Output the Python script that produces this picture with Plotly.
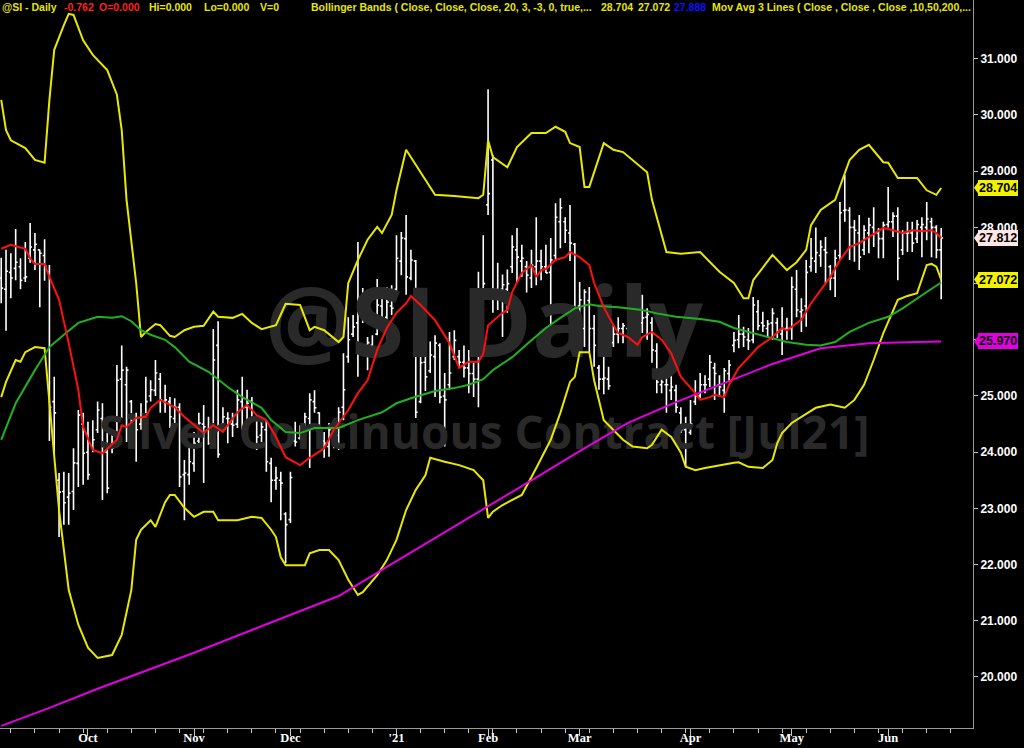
import plotly.graph_objects as go

# ---------------- DATA ----------------
month_labels = ["Oct", "Nov", "Dec", "'21", "Feb", "Mar", "Apr", "May", "Jun"]
month_index = [18, 40, 60, 82, 101, 120, 143, 164, 184]

price_ticks = [20, 21, 22, 23, 24, 25, 26, 27, 28, 29, 30, 31]
price_tick_text = ["20.000", "21.000", "22.000", "23.000", "24.000", "25.000", "", "",
                   "28.000", "29.000", "30.000", "31.000"]

bar_open = [27.1, 26.9, 27.2, 27.27, 27.3, 27.1, 27.45, 27.6, 27.6, 27.5,
            27.2, 24.9, 23.5, 23.3, 23.2, 23.3, 23.8, 24.5, 24.0, 24.1,
            24.4, 24.6, 24.0, 24.1, 24.2, 25.3, 25.2, 24.9, 24.6, 24.5,
            24.6, 25.0, 25.1, 25.3, 24.9, 24.9, 24.6, 24.8, 23.6, 23.6,
            23.8, 24.2, 24.5, 24.4, 24.3, 25.9, 24.5, 24.6, 24.5, 24.5,
            24.9, 24.8, 24.9, 24.6, 24.3, 24.4, 23.8, 23.5, 23.5, 22.9,
            22.8, 24.2, 24.25, 24.4, 24.6, 24.9, 24.7, 24.2, 24.1, 24.3,
            24.3, 24.8, 25.7, 26.1, 26.3, 26.5, 25.9, 25.9, 26.1, 26.6,
            26.4, 26.6, 26.9, 27.4, 27.8, 27.1, 27.4, 24.9, 25.6, 25.45,
            25.7, 25.9, 25.0, 25.2, 25.7, 25.7, 25.6, 25.5, 25.4, 25.3,
            26.5, 28.4, 29.2, 26.9, 26.9, 26.9, 27.3, 27.6, 27.4, 27.3,
            27.1, 27.3, 27.4, 27.3, 27.2, 27.5, 28.1, 28.1, 27.9, 27.7,
            26.6, 26.2, 26.7, 26.2, 25.5, 25.3, 25.3, 25.95, 26.1, 26.2,
            26.2, 26.1, 26.3, 26.3, 26.4, 26.3, 25.8, 25.2, 25.2, 25.1,
            25.1, 24.7, 24.4, 24.35, 24.9, 25.0, 25.2, 25.3, 25.5, 25.2,
            25.1, 25.4, 25.9, 26.0, 26.1, 26.0, 26.0, 26.5, 26.3, 26.2,
            26.3, 26.3, 26.1, 26.2, 26.2, 26.9, 26.5, 26.6, 27.3, 27.4,
            27.5, 27.6, 27.3, 27.1, 27.5, 28.3, 28.3, 28.0, 27.9, 27.6,
            27.9, 28.0, 27.9, 27.8, 28.05, 28.1, 28.2, 27.6, 27.9, 27.9,
            27.8, 28.0, 28.0, 28.1, 28.0, 27.6]

bar_high = [27.46, 27.60, 27.54, 27.97, 27.45, 27.74, 28.08, 27.90, 27.60, 27.79,
            27.33, 25.34, 23.63, 23.65, 23.63, 24.07, 24.75, 24.70, 24.54, 24.57,
            24.90, 24.87, 24.34, 24.36, 25.55, 25.90, 25.52, 24.93, 24.70, 24.87,
            25.34, 25.28, 25.64, 25.41, 25.20, 24.98, 24.96, 24.87, 23.86, 24.13,
            24.36, 24.70, 24.84, 24.63, 26.19, 26.33, 24.80, 24.71, 24.70, 25.11,
            25.34, 25.11, 24.98, 24.63, 24.63, 24.57, 23.90, 23.74, 23.65, 22.93,
            23.65, 24.54, 24.48, 24.70, 25.05, 25.10, 24.71, 24.36, 24.52, 24.45,
            24.80, 25.76, 26.40, 26.44, 27.74, 26.92, 26.05, 26.08, 27.08, 26.88,
            26.94, 26.97, 27.86, 27.92, 28.22, 27.60, 27.42, 25.82, 25.87, 25.97,
            26.08, 25.94, 25.41, 26.14, 26.17, 25.82, 25.90, 25.82, 25.59, 27.21,
            27.86, 30.46, 29.29, 27.37, 27.16, 27.25, 27.86, 27.99, 27.69, 27.40,
            27.60, 28.18, 27.60, 27.69, 27.81, 28.43, 28.52, 28.18, 28.40, 27.72,
            27.03, 26.90, 26.94, 26.44, 25.55, 26.03, 25.52, 26.26, 26.40, 26.30,
            26.35, 26.44, 26.53, 26.80, 26.56, 26.40, 25.94, 25.46, 25.32, 25.37,
            25.20, 24.80, 24.63, 24.93, 25.28, 25.41, 25.37, 25.73, 25.59, 25.37,
            25.50, 25.64, 26.14, 26.44, 26.23, 26.21, 26.76, 26.71, 26.50, 26.35,
            26.56, 26.39, 26.58, 26.39, 27.12, 27.24, 26.74, 27.42, 27.81, 28.00,
            27.77, 27.83, 27.33, 27.60, 28.45, 28.93, 28.36, 28.13, 28.22, 28.04,
            28.17, 28.36, 27.99, 28.10, 28.72, 28.27, 28.36, 27.95, 28.10, 28.10,
            28.13, 28.18, 28.45, 28.17, 28.04, 27.99]

bar_low = [26.65, 26.16, 26.74, 27.06, 26.90, 27.03, 27.37, 27.24, 26.58, 27.05,
           24.20, 23.95, 22.49, 22.71, 22.71, 22.97, 23.38, 23.42, 23.51, 24.00,
           24.34, 23.15, 23.27, 23.98, 24.13, 24.61, 24.18, 24.31, 23.83, 24.40,
           24.40, 24.90, 25.00, 24.70, 24.70, 24.43, 24.45, 23.38, 22.79, 23.42,
           23.65, 24.16, 23.45, 24.13, 24.27, 23.90, 24.40, 24.16, 24.27, 24.43,
           24.40, 24.54, 24.61, 24.04, 24.18, 23.65, 23.11, 23.33, 22.79, 22.03,
           22.74, 24.10, 24.22, 24.10, 23.72, 24.70, 24.10, 23.90, 23.92, 24.07,
           24.04, 24.57, 25.59, 26.05, 25.34, 26.30, 25.46, 25.69, 26.08, 26.21,
           26.35, 26.44, 26.85, 27.15, 26.80, 27.06, 24.61, 24.87, 25.09, 25.41,
           24.98, 24.87, 24.10, 25.11, 25.64, 25.52, 25.33, 25.05, 24.98, 24.80,
           26.00, 28.22, 26.48, 26.53, 26.05, 26.48, 27.19, 27.01, 27.12, 26.84,
           26.92, 26.97, 27.06, 27.19, 26.26, 27.40, 27.63, 27.72, 27.40, 26.17,
           26.23, 25.87, 25.77, 25.52, 25.11, 25.03, 25.11, 25.87, 25.94, 25.94,
           26.03, 26.05, 26.12, 26.12, 26.00, 25.59, 25.05, 25.05, 24.70, 24.93,
           24.70, 24.34, 23.74, 24.31, 24.84, 24.96, 25.05, 25.16, 24.93, 24.98,
           24.70, 25.25, 25.78, 25.85, 25.87, 25.82, 25.94, 26.17, 26.14, 26.05,
           26.00, 26.03, 25.73, 26.00, 26.00, 26.40, 26.14, 26.23, 27.21, 27.19,
           27.30, 27.01, 26.88, 26.76, 27.42, 28.10, 27.42, 27.39, 27.24, 27.51,
           27.54, 27.65, 27.45, 27.45, 28.00, 27.83, 27.06, 27.51, 27.56, 27.56,
           27.72, 27.47, 27.77, 27.47, 27.45, 26.72]

bar_close = [26.92, 27.22, 27.10, 27.38, 27.06, 27.12, 27.65, 27.70, 27.54, 27.31,
             24.80, 24.70, 23.29, 23.10, 23.27, 23.81, 24.66, 23.98, 23.60, 24.22,
             24.75, 24.09, 23.36, 24.07, 25.28, 25.46, 25.46, 24.61, 24.40, 24.61,
             24.90, 25.11, 25.41, 24.93, 24.93, 24.63, 24.80, 23.56, 23.63, 23.83,
             24.16, 24.52, 24.45, 24.16, 25.64, 23.96, 24.63, 24.60, 24.48, 24.93,
             24.79, 24.87, 24.63, 24.27, 24.45, 23.83, 23.50, 23.54, 23.45, 22.71,
             23.55, 24.18, 24.35, 24.63, 24.93, 24.79, 24.16, 24.16, 24.40, 24.40,
             24.71, 25.11, 26.00, 26.23, 26.48, 26.53, 25.95, 25.82, 26.62, 26.39,
             26.67, 26.56, 27.45, 27.81, 27.12, 27.42, 24.71, 25.59, 25.34, 25.73,
             25.94, 24.98, 24.93, 25.41, 25.99, 25.60, 25.50, 25.40, 25.30, 26.50,
             27.00, 28.60, 26.90, 26.87, 26.98, 27.00, 27.65, 27.47, 27.45, 27.15,
             27.33, 27.40, 27.30, 27.19, 27.42, 28.18, 28.35, 27.95, 27.72, 26.48,
             26.71, 26.85, 26.20, 25.90, 25.30, 25.32, 25.18, 26.10, 26.20, 26.25,
             26.06, 26.32, 26.20, 26.39, 26.45, 25.82, 25.25, 25.25, 25.20, 25.16,
             24.80, 24.40, 24.10, 24.50, 25.00, 25.20, 25.20, 25.60, 25.40, 25.16,
             25.45, 25.55, 25.99, 26.10, 26.05, 25.98, 26.62, 26.25, 26.25, 26.28,
             26.47, 26.14, 26.20, 26.20, 26.94, 26.53, 26.53, 27.20, 27.45, 27.55,
             27.65, 27.55, 27.10, 27.45, 28.26, 28.31, 28.00, 27.95, 27.47, 27.95,
             28.04, 27.90, 27.80, 28.04, 28.10, 28.20, 27.45, 27.90, 27.90, 27.72,
             28.05, 28.05, 28.15, 28.00, 27.60, 27.81]

ma10_idx = [0, 2, 5, 6, 7, 9, 10, 12, 14, 16, 17, 19, 21, 23, 24, 25, 26, 28, 30, 31,
            33, 35, 36, 38, 40, 42, 44, 46, 47, 49, 51, 53, 55, 57, 59, 62, 64, 67, 69, 72,
            74, 76, 78, 80, 82, 84, 85, 87, 90, 93, 95, 97, 99, 100, 101, 104, 105, 106, 108, 110,
            111, 112, 113, 115, 117, 118, 120, 122, 123, 125, 127, 128, 130, 132, 133, 135, 137, 139, 141, 144,
            145, 147, 148, 150, 151, 153, 155, 157, 160, 162, 163, 165, 166, 168, 170, 172, 174, 176, 178, 180,
            183, 185, 187, 189, 191, 193, 194, 195]
ma10_val = [27.62, 27.69, 27.62, 27.45, 27.35, 27.35, 27.12, 26.71, 25.94, 25.11,
            24.45, 24.04, 23.98, 24.13, 24.22, 24.48, 24.45, 24.61, 24.63, 24.79,
            24.93, 24.84, 24.8, 24.63, 24.48, 24.34, 24.48, 24.36, 24.48, 24.71,
            24.84, 24.66, 24.57, 24.27, 23.91, 23.77, 23.9, 24.07, 24.4, 24.75,
            25.05, 25.28, 25.82, 26.21, 26.48, 26.65, 26.78, 26.62, 26.35, 25.94,
            25.5, 25.61, 25.61, 25.75, 26.26, 26.48, 26.53, 26.85, 27.19, 27.33,
            27.12, 27.24, 27.26, 27.42, 27.47, 27.56, 27.47, 27.33, 27.01, 26.58,
            26.26, 26.12, 26.05, 25.91, 26.05, 26.14, 26.0, 25.76, 25.34, 25.05,
            24.93, 24.98, 25.02, 24.98, 25.2, 25.5, 25.68, 25.87, 26.05, 26.21,
            26.17, 26.3, 26.36, 26.65, 26.88, 27.12, 27.42, 27.65, 27.72, 27.83,
            27.99, 27.95, 27.9, 27.95, 27.93, 27.95, 27.9, 27.81]

ma50_idx = [0, 3, 7, 10, 13, 16, 20, 23, 25, 27, 29, 31, 34, 36, 39, 43, 47, 50, 54, 56,
            59, 62, 65, 67, 70, 74, 79, 82, 85, 90, 94, 97, 100, 102, 106, 110, 113, 116, 119, 122,
            124, 128, 133, 136, 140, 145, 149, 152, 155, 160, 163, 167, 170, 173, 176, 180, 184, 187, 189, 192,
            195]
ma50_val = [24.22, 24.87, 25.46, 25.87, 26.09, 26.3, 26.41, 26.39, 26.42, 26.33,
            26.17, 26.09, 26.0, 25.87, 25.61, 25.43, 25.16, 24.98, 24.79, 24.57,
            24.36, 24.34, 24.43, 24.43, 24.43, 24.57, 24.71, 24.87, 24.96, 25.09,
            25.14, 25.2, 25.3, 25.46, 25.69, 25.99, 26.21, 26.39, 26.56, 26.63,
            26.6, 26.58, 26.53, 26.47, 26.41, 26.37, 26.32, 26.21, 26.14, 26.03,
            25.96, 25.91, 25.9, 25.96, 26.14, 26.3, 26.41, 26.56, 26.67, 26.85,
            27.02]

ma200_idx = [0, 10, 20, 30, 40, 50, 60, 70, 80, 90, 100, 110, 120, 130, 140, 150, 160, 170, 180, 190, 195]
ma200_val = [19.13, 19.45, 19.79, 20.11, 20.43, 20.77, 21.1, 21.44, 21.96, 22.47,
             22.99, 23.5, 24.02, 24.52, 24.89, 25.23, 25.57, 25.85, 25.94, 25.96, 25.97]

bb_up_idx = [0, 1, 2, 5, 7, 9, 10, 11, 13, 14, 15, 17, 19, 22, 24, 25, 26, 27, 28, 29,
             30, 32, 33, 35, 36, 38, 40, 42, 44, 45, 48, 50, 52, 54, 57, 59, 62, 64, 65, 67,
             70, 71, 72, 74, 76, 78, 79, 81, 82, 84, 87, 90, 94, 99, 100, 101, 102, 105, 107, 110,
             113, 115, 117, 118, 120, 121, 122, 125, 127, 129, 134, 135, 138, 141, 145, 149, 152, 154, 155, 156,
             160, 163, 165, 167, 168, 170, 173, 175, 176, 178, 180, 183, 184, 186, 190, 192, 194, 195]
bb_up_val = [30.27, 29.73, 29.55, 29.41, 29.2, 29.15, 30.27, 31.16, 31.6, 31.8,
             31.78, 31.33, 31.07, 30.8, 30.36, 29.73, 28.49, 27.78, 27.01, 26.05,
             26.14, 26.28, 26.26, 26.07, 26.05, 26.17, 26.23, 26.25, 26.5, 26.41,
             26.39, 26.46, 26.3, 26.19, 26.26, 26.64, 26.62, 26.17, 26.23, 26.17,
             25.96, 26.05, 27.01, 27.42, 27.78, 28.01, 27.9, 28.22, 28.66, 29.38,
             28.98, 28.58, 28.56, 28.52, 28.58, 29.55, 29.25, 29.07, 29.43, 29.68,
             29.68, 29.79, 29.7, 29.5, 29.43, 28.72, 28.72, 29.5, 29.38, 29.34,
             28.98, 28.49, 27.56, 27.53, 27.56, 27.21, 27.01, 26.74, 26.74, 27.06,
             27.51, 27.24, 27.38, 27.6, 28.04, 28.31, 28.49, 28.97, 29.2, 29.38,
             29.47, 29.16, 29.15, 28.88, 28.88, 28.66, 28.58, 28.7]

bb_lo_idx = [0, 1, 3, 4, 5, 6, 7, 9, 10, 12, 13, 14, 16, 18, 20, 23, 25, 27, 28, 29,
             31, 32, 34, 35, 36, 38, 40, 42, 44, 45, 49, 52, 54, 56, 57, 58, 59, 63, 64, 66,
             68, 70, 72, 74, 75, 78, 80, 82, 84, 86, 88, 89, 92, 95, 98, 100, 101, 102, 104, 108,
             111, 114, 116, 118, 119, 120, 122, 123, 125, 127, 129, 131, 134, 135, 137, 139, 141, 142, 144, 146,
             149, 152, 153, 155, 158, 160, 161, 162, 164, 166, 169, 172, 175, 177, 179, 181, 183, 186, 188, 190,
             192, 193, 194, 195]
bb_lo_val = [24.98, 25.25, 25.64, 25.61, 25.78, 25.82, 25.87, 25.85, 24.93, 22.97,
             22.26, 21.55, 20.93, 20.52, 20.34, 20.39, 20.75, 21.55, 22.44, 22.62,
             22.79, 22.67, 23.11, 23.24, 23.24, 23.01, 22.85, 22.94, 22.94, 22.79,
             22.79, 22.85, 22.83, 22.62, 22.49, 22.13, 21.99, 21.99, 22.2, 22.26,
             22.26, 22.08, 21.73, 21.46, 21.51, 21.81, 22.08, 22.44, 22.97, 23.33,
             23.59, 23.9, 23.83, 23.77, 23.68, 23.5, 22.83, 22.94, 23.06, 23.24,
             23.72, 24.22, 24.7, 25.25, 25.34, 25.78, 25.78, 25.28, 24.57, 24.4,
             24.22, 24.1, 24.07, 24.13, 24.4, 24.27, 23.99, 23.74, 23.68, 23.72,
             23.77, 23.81, 23.82, 23.74, 23.72, 23.86, 24.16, 24.34, 24.52, 24.63,
             24.79, 24.85, 24.79, 24.93, 25.2, 25.64, 26.12, 26.71, 26.78, 26.83,
             27.33, 27.35, 27.3, 27.07]

# right-hand price markers
marker_values = [28.704, 27.812, 27.072, 25.970]
marker_bg = ["#f2f200", "#ffe6e6", "#f2f200", "#e000e0"]

# header pieces: text, pixel x, colour
header_text = ["@SI - Daily", "-0.762", "O=0.000", "Hi=0.000", "Lo=0.000", "V=0",
               "Bollinger Bands ( Close, Close, Close, 20, 3, -3, 0, true,...",
               "28.704", "27.072", "27.888",
               "Mov Avg 3 Lines ( Close , Close , Close ,10,50,200,..."]
header_px = [1, 63, 98, 148, 203, 259, 310, 600, 637, 673, 711]
header_color = ["#e6e600", "#ff2020", "#ff2020", "#e6e600", "#e6e600", "#e6e600",
                "#e6e600", "#e6e600", "#e6e600", "#1010ff", "#e6e600"]

# ---------------- FIGURE ----------------
PLOT_W = 973
PLOT_H = 728
YMIN, YMAX = 19.092, 32.046
XMIN, XMAX = -0.25, 201.6
bar_idx = list(range(len(bar_close)))

fig = go.Figure()

wm_color = "#292929"
fig.add_trace(go.Scatter(x=[100.2], y=[26.12], mode="text", text=["@SI Daily"],
                         textfont=dict(family="Open Sans", size=96, color=wm_color, weight="bold"),
                         hoverinfo="skip", showlegend=False))
fig.add_trace(go.Scatter(x=[100.2], y=[24.26], mode="text", text=["Silver Continuous Contract [Jul21]"],
                         textfont=dict(family="Open Sans", size=46, color=wm_color, weight="bold"),
                         hoverinfo="skip", showlegend=False))

fig.add_trace(go.Ohlc(x=bar_idx, open=bar_open, high=bar_high, low=bar_low, close=bar_close,
                      increasing=dict(line=dict(color="white", width=1.6)),
                      decreasing=dict(line=dict(color="white", width=1.6)),
                      tickwidth=0.4, hoverinfo="skip", showlegend=False))

band_color = "#e8e800"
fig.add_trace(go.Scatter(x=bb_up_idx, y=bb_up_val, mode="lines",
                         line=dict(color=band_color, width=2), hoverinfo="skip", showlegend=False))
fig.add_trace(go.Scatter(x=bb_lo_idx, y=bb_lo_val, mode="lines",
                         line=dict(color=band_color, width=2), hoverinfo="skip", showlegend=False))
fig.add_trace(go.Scatter(x=ma200_idx, y=ma200_val, mode="lines",
                         line=dict(color="#e000e0", width=2), hoverinfo="skip", showlegend=False))
fig.add_trace(go.Scatter(x=ma50_idx, y=ma50_val, mode="lines",
                         line=dict(color="#22b022", width=2), hoverinfo="skip", showlegend=False))
fig.add_trace(go.Scatter(x=ma10_idx, y=ma10_val, mode="lines",
                         line=dict(color="#ff1010", width=2), hoverinfo="skip", showlegend=False))

annotations = []
for txt, px, col in zip(header_text, header_px, header_color):
    annotations.append(dict(text=txt, xref="paper", yref="paper", x=px / PLOT_W, y=1 - 7.5 / PLOT_H,
                            xanchor="left", yanchor="middle", showarrow=False, borderpad=0,
                            font=dict(family="Liberation Sans", size=10.5, color=col, weight="bold")))

shapes = []
half = 7.0 / (PLOT_H / (YMAX - YMIN))
for val, bg in zip(marker_values, marker_bg):
    annotations.append(dict(text=f"{val:.3f}", xref="paper", yref="y", x=1, y=val,
                            xanchor="left", yanchor="middle", xshift=5, showarrow=False,
                            bgcolor=bg, bordercolor=bg, borderpad=0,
                            font=dict(family="Liberation Sans", size=12.5, color="black", weight="bold")))
    shapes.append(dict(type="path", xref="paper", yref="y", fillcolor=bg, line=dict(width=0),
                       path=f"M {974 / PLOT_W},{val} L {979 / PLOT_W},{val + half} L {979 / PLOT_W},{val - half} Z"))

fig.update_layout(
    width=1024, height=748,
    margin=dict(l=0, r=1024 - PLOT_W, t=0, b=748 - PLOT_H, autoexpand=False),
    paper_bgcolor="black", plot_bgcolor="black",
    showlegend=False,
    annotations=annotations,
    shapes=shapes,
    xaxis=dict(range=[XMIN, XMAX], tickmode="array", tickvals=month_index, ticktext=month_labels,
               ticks="outside", ticklen=7, tickcolor="#c8c8c8", showgrid=False, zeroline=False,
               showline=True, linecolor="#9a9a9a", linewidth=1, automargin=False,
               ticklabelstandoff=-9,
               tickfont=dict(family="Liberation Sans Narrow", size=12.5, color="white", weight="bold"),
               rangeslider=dict(visible=False),
               minor=dict(ticks="outside", ticklen=4, tickcolor="#c8c8c8", tickmode="linear", tick0=2, dtick=5)),
    yaxis=dict(side="right", range=[YMIN, YMAX], tickmode="array", tickvals=price_ticks,
               ticktext=price_tick_text,
               ticks="outside", ticklen=4, tickcolor="#c8c8c8", showgrid=False, zeroline=False,
               showline=True, linecolor="#9a9a9a", linewidth=1, automargin=False,
               tickfont=dict(family="Liberation Sans", size=12, color="white", weight="bold")),
)

fig.write_html("out.html", config={"displayModeBar": False},
               post_script="document.body.style.margin='0';document.body.style.background='#000';document.body.style.overflow='hidden';")
